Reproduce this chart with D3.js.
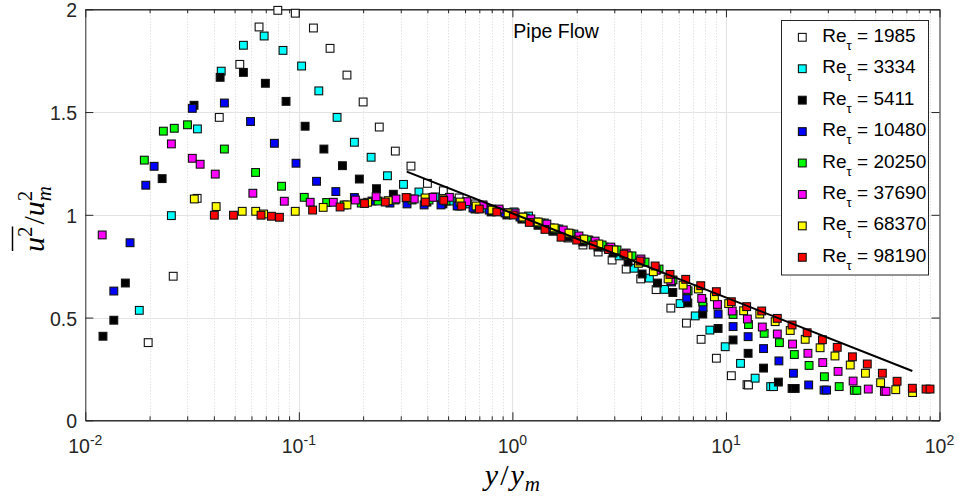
<!DOCTYPE html>
<html><head><meta charset="utf-8">
<script src="https://cdn.jsdelivr.net/npm/d3@7"></script>
<style>body{margin:0;background:#fff}</style>
</head><body>
<svg id="c" width="959" height="497"></svg>
<script>
const categories = ["1985","3334","5411","10480","20250","37690","68370","98190"];
const seriesColors = ["#ffffff","#00ffff","#000000","#0000ff","#00ff00","#ff00ff","#ffff00","#ff0000"];

const x1985 = [0.0197,0.0258,0.0334,0.0424,0.0529,0.0651,0.0797,0.0962,0.117,0.140,0.168,0.200,0.238,0.283,0.335,0.400,0.475,0.563,0.668,0.795,0.942,1.11,1.32,1.55,1.82,2.14,2.52,2.93,3.41,3.99,4.71,5.52,6.53,7.65,9.02,10.6,12.55,12.75];
const y1985 = [0.378,0.701,1.080,1.474,1.732,1.914,1.995,1.981,1.909,1.810,1.680,1.549,1.427,1.310,1.237,1.153,1.117,1.082,1.053,1.028,1.009,0.980,0.950,0.921,0.887,0.853,0.819,0.780,0.736,0.688,0.636,0.546,0.473,0.394,0.302,0.217,0.173,0.172];

const x3334 = [0.0179,0.0253,0.0335,0.0433,0.0550,0.0688,0.0843,0.103,0.124,0.151,0.182,0.218,0.260,0.309,0.365,0.434,0.516,0.613,0.729,0.866,1.017,1.19,1.41,1.65,1.94,2.28,2.69,3.16,3.72,4.38,5.16,6.10,7.18,8.41,9.92,11.7,13.7,16.2,16.7];
const y3334 = [0.535,0.996,1.418,1.699,1.825,1.870,1.800,1.724,1.603,1.474,1.353,1.280,1.190,1.148,1.111,1.087,1.067,1.053,1.033,1.019,1.014,0.994,0.960,0.931,0.906,0.877,0.843,0.800,0.740,0.692,0.637,0.568,0.508,0.439,0.358,0.277,0.205,0.164,0.164];

const x5411 = [0.0121,0.0136,0.0154,0.0229,0.0323,0.0428,0.0550,0.0697,0.0871,0.107,0.131,0.160,0.192,0.231,0.277,0.332,0.398,0.473,0.563,0.668,0.795,0.942,1.11,1.32,1.55,1.82,2.14,2.52,2.96,3.48,4.05,4.78,5.64,6.63,7.79,9.19,10.8,12.7,15.0,17.6,20.4,21.1];
const y5411 = [0.409,0.487,0.668,1.176,1.533,1.669,1.693,1.640,1.552,1.431,1.320,1.239,1.174,1.127,1.100,1.077,1.062,1.053,1.043,1.028,1.014,0.999,0.980,0.950,0.921,0.892,0.868,0.843,0.814,0.770,0.712,0.668,0.622,0.571,0.517,0.447,0.391,0.326,0.254,0.186,0.155,0.155];

const x10480 = [0.0136,0.0162,0.0192,0.0210,0.0317,0.0448,0.0594,0.0768,0.0970,0.121,0.149,0.182,0.220,0.267,0.321,0.386,0.463,0.551,0.654,0.778,0.924,1.085,1.29,1.51,1.78,2.10,2.46,2.89,3.41,4.00,4.71,5.56,6.55,7.81,9.19,10.8,12.7,15.0,17.7,20.7,24.4,28.8,29.6];
const y10480 = [0.629,0.864,1.144,1.236,1.518,1.544,1.454,1.348,1.251,1.163,1.113,1.084,1.067,1.057,1.053,1.048,1.048,1.043,1.033,1.023,1.009,0.989,0.965,0.936,0.911,0.882,0.858,0.834,0.804,0.770,0.731,0.673,0.595,0.549,0.517,0.456,0.407,0.349,0.289,0.229,0.172,0.147,0.147];

const x20250 = [0.0189,0.0232,0.0261,0.0301,0.0448,0.0627,0.0830,0.106,0.135,0.163,0.196,0.235,0.282,0.339,0.407,0.489,0.581,0.691,0.821,0.975,1.15,1.36,1.60,1.88,2.24,2.63,3.09,3.63,4.18,4.86,5.65,6.65,7.79,9.14,10.8,12.75,15.1,17.8,20.9,24.5,28.9,33.9,39.9,41.0];
const y20250 = [1.266,1.407,1.421,1.438,1.320,1.206,1.139,1.085,1.060,1.048,1.057,1.067,1.072,1.072,1.072,1.067,1.053,1.038,1.019,1.004,0.984,0.960,0.931,0.907,0.877,0.853,0.829,0.800,0.770,0.736,0.683,0.630,0.576,0.561,0.515,0.466,0.423,0.378,0.320,0.267,0.212,0.164,0.146,0.146];

const x37690 = [0.0120,0.0253,0.0317,0.0345,0.0406,0.0609,0.0855,0.113,0.145,0.184,0.230,0.285,0.347,0.424,0.507,0.611,0.729,0.866,1.03,1.22,1.45,1.73,2.05,2.44,2.89,3.41,4.00,4.71,5.52,6.55,7.70,9.12,10.7,12.6,14.8,17.4,20.5,24.2,28.4,33.5,39.4,46.4,55.2,56.2];
const y37690 = [0.902,1.345,1.275,1.246,1.198,1.105,1.066,1.061,1.061,1.072,1.088,1.077,1.077,1.085,1.085,1.064,1.048,1.028,1.009,0.980,0.955,0.926,0.897,0.872,0.843,0.814,0.785,0.731,0.679,0.637,0.593,0.564,0.532,0.493,0.454,0.420,0.371,0.326,0.281,0.238,0.191,0.152,0.141,0.141];

const x68370 = [0.0324,0.0410,0.0543,0.0628,0.0684,0.0962,0.130,0.168,0.210,0.262,0.321,0.390,0.473,0.569,0.676,0.803,0.954,1.12,1.32,1.57,1.84,2.16,2.54,2.99,3.48,3.89,4.57,5.36,6.30,7.43,8.83,10.3,12.1,14.4,17.0,20.0,23.5,27.6,32.4,38.2,45.0,53.0,62.4,74.8];
const y68370 = [1.077,1.040,1.017,1.017,1.004,1.017,1.036,1.048,1.061,1.069,1.082,1.082,1.077,1.062,1.043,1.023,1.009,0.989,0.965,0.936,0.911,0.882,0.858,0.829,0.800,0.764,0.723,0.688,0.658,0.639,0.601,0.568,0.533,0.517,0.480,0.437,0.394,0.353,0.313,0.269,0.229,0.183,0.149,0.135];

const x98190 = [0.0402,0.0494,0.0665,0.0744,0.0811,0.116,0.156,0.203,0.254,0.318,0.391,0.477,0.578,0.700,0.845,1.01,1.20,1.42,1.69,2.00,2.39,2.82,3.33,3.96,4.66,5.47,6.48,7.62,9.02,10.6,12.5,14.7,17.4,20.4,24.0,28.3,33.2,39.1,45.9,54.0,63.3,74.6,86.5,90.3];
const y98190 = [0.998,0.998,0.998,0.993,0.988,1.023,1.038,1.055,1.062,1.084,1.062,1.070,1.043,1.028,1.014,0.999,0.963,0.929,0.891,0.877,0.853,0.831,0.809,0.775,0.751,0.710,0.686,0.655,0.626,0.577,0.553,0.532,0.496,0.464,0.426,0.392,0.355,0.309,0.274,0.229,0.190,0.156,0.152,0.152];

const fitX = [0.32, 74.6];
const fitY = [1.21, 0.24];

const xTicks = [0.01, 0.1, 1, 10, 100];
const xTickExp = ["-2", "-1", "0", "1", "2"];
const yTicks = [0, 0.5, 1, 1.5, 2];
const yTickLabels = ["0", "0.5", "1", "1.5", "2"];
const annotation = "Pipe Flow";

const seriesX = [x1985, x3334, x5411, x10480, x20250, x37690, x68370, x98190];
const seriesY = [y1985, y3334, y5411, y10480, y20250, y37690, y68370, y98190];
const series = categories.map((c, i) => ({
  name: c, color: seriesColors[i],
  pts: seriesX[i].map((v, j) => ({x: v, y: seriesY[i][j]})).filter(p => p.y !== undefined)
}));

const L = 85.3, R = 939.5, T = 9.3, B = 420.3;
const svg = d3.select("#c");
const x = d3.scaleLog().domain([0.01, 100]).range([L, R]);
const y = d3.scaleLinear().domain([0, 2]).range([B, T]);
const axisCol = "#262626";
const font = "Arial, 'Liberation Sans', Helvetica, sans-serif";

const minor = [];
for (let d = 0.01; d < 100; d *= 10) for (let k = 2; k <= 9; k++) minor.push(+(d * k).toPrecision(3));

// grid
const grid = svg.append("g");
grid.selectAll(".mg").data(minor).enter().append("line")
  .attr("x1", d => Math.round(x(d)) + 0.5).attr("x2", d => Math.round(x(d)) + 0.5)
  .attr("y1", T).attr("y2", B)
  .attr("stroke", "#d6d6d6").attr("stroke-width", 1).attr("stroke-dasharray", "1,2");
grid.selectAll(".Mg").data(xTicks.slice(1, -1)).enter().append("line")
  .attr("x1", d => Math.round(x(d)) + 0.5).attr("x2", d => Math.round(x(d)) + 0.5)
  .attr("y1", T).attr("y2", B).attr("stroke", "#e3e3e3").attr("stroke-width", 1.2);
grid.selectAll(".yg").data(yTicks.slice(1, -1)).enter().append("line")
  .attr("x1", L).attr("x2", R)
  .attr("y1", d => Math.round(y(d)) + 0.5).attr("y2", d => Math.round(y(d)) + 0.5)
  .attr("stroke", "#e3e3e3").attr("stroke-width", 1.2);

// axes
function styleAxis(g) {
  g.selectAll("path,line").attr("stroke", axisCol);
  g.selectAll("text").remove();
}
svg.append("g").attr("transform", `translate(0,${B})`)
  .call(d3.axisBottom(x).tickValues(xTicks).tickSizeInner(-8).tickSizeOuter(0).tickFormat("")).call(styleAxis);
svg.append("g").attr("transform", `translate(0,${B})`)
  .call(d3.axisBottom(x).tickValues(minor).tickSizeInner(-4).tickSizeOuter(0).tickFormat("")).call(styleAxis);
svg.append("g").attr("transform", `translate(0,${T})`)
  .call(d3.axisTop(x).tickValues(xTicks).tickSizeInner(-8).tickSizeOuter(0).tickFormat("")).call(styleAxis);
svg.append("g").attr("transform", `translate(0,${T})`)
  .call(d3.axisTop(x).tickValues(minor).tickSizeInner(-4).tickSizeOuter(0).tickFormat("")).call(styleAxis);
svg.append("g").attr("transform", `translate(${L},0)`)
  .call(d3.axisLeft(y).tickValues(yTicks).tickSizeInner(-8).tickSizeOuter(0).tickFormat("")).call(styleAxis);
svg.append("g").attr("transform", `translate(${R},0)`)
  .call(d3.axisRight(y).tickValues(yTicks).tickSizeInner(-8).tickSizeOuter(0).tickFormat("")).call(styleAxis);

// tick labels
const xl = svg.append("g").attr("font-family", font).attr("fill", axisCol);
xTicks.forEach((v, i) => {
  const t = xl.append("text").attr("x", x(v)).attr("y", 453).attr("text-anchor", "middle").attr("font-size", 19.5);
  t.append("tspan").text("10");
  t.append("tspan").attr("dy", -8.5).attr("font-size", 14).text(xTickExp[i]);
});
const yl = svg.append("g").attr("font-family", font).attr("fill", axisCol).attr("font-size", 19.5);
yTicks.forEach((v, i) => {
  yl.append("text").attr("x", 77).attr("y", y(v) + 8).attr("text-anchor", "end").text(yTickLabels[i]);
});

// markers
const S = 7.8;
series.forEach(s => {
  svg.append("g").selectAll("rect").data(s.pts).enter().append("rect")
    .attr("x", d => x(d.x) - S / 2).attr("y", d => y(d.y) - S / 2)
    .attr("width", S).attr("height", S)
    .attr("fill", s.color).attr("stroke", "#111").attr("stroke-width", 1.1);
});

// fit line
svg.append("path")
  .datum(fitX.map((v, i) => ({x: v, y: fitY[i]})))
  .attr("d", d3.line().x(d => x(d.x)).y(d => y(d.y)))
  .attr("stroke", "#000").attr("stroke-width", 2).attr("fill", "none");

// annotation
svg.append("text").attr("x", 513.3).attr("y", 37.5).attr("font-family", font).attr("font-size", 19.5)
  .attr("fill", "#000").text(annotation);

// legend
const lg = svg.append("g");
lg.append("rect").attr("x", 781.5).attr("y", 20.5).attr("width", 147).attr("height", 254.5)
  .attr("fill", "#fff").attr("stroke", axisCol).attr("stroke-width", 1);
series.forEach((s, i) => {
  const cy = 37.3 + i * 31.43;
  lg.append("rect").attr("x", 802.3 - S / 2).attr("y", cy - S / 2).attr("width", S).attr("height", S)
    .attr("fill", s.color).attr("stroke", "#111").attr("stroke-width", 1.1);
  const t = lg.append("text").attr("x", 822.3).attr("y", cy + 4.5).attr("font-family", font)
    .attr("font-size", 19).attr("fill", "#000");
  t.append("tspan").text("Re");
  t.append("tspan").attr("dy", 8).attr("font-size", 13).text("τ");
  t.append("tspan").attr("dy", -8).text(" = " + s.name);
});

// axis labels
const mathFont = "'Liberation Serif', 'DejaVu Serif', serif";
const xlab = svg.append("text").attr("x", 512.4).attr("y", 485).attr("text-anchor", "middle")
  .attr("font-family", mathFont).attr("font-size", 30).attr("fill", "#000");
xlab.append("tspan").attr("font-style", "italic").text("y");
xlab.append("tspan").attr("dx", 2).text("/");
xlab.append("tspan").attr("dx", 2).attr("font-style", "italic").text("y");
xlab.append("tspan").attr("font-style", "italic").attr("font-size", 21).attr("dx", 1).attr("dy", 6).text("m");

const yg = svg.append("g").attr("transform", "translate(44,219) rotate(-90)");
const ylab = yg.append("text").attr("x", 0).attr("y", 0).attr("text-anchor", "middle")
  .attr("font-family", mathFont).attr("font-size", 30).attr("fill", "#000");
ylab.append("tspan").attr("font-style", "italic").text("u");
ylab.append("tspan").attr("font-size", 21).attr("dy", -12).text("2");
ylab.append("tspan").attr("dy", 12).attr("dx", 2).text("/");
ylab.append("tspan").attr("font-style", "italic").text("u");
ylab.append("tspan").attr("font-size", 21).attr("dy", -12).text("2");
ylab.append("tspan").attr("font-size", 21).attr("font-style", "italic").attr("dx", -10.5).attr("dy", 19).text("m");
const e0 = ylab.node().getExtentOfChar(0), e1 = ylab.node().getExtentOfChar(1);
const oy = Math.min(e0.y, e1.y) - 0.5;
yg.append("line").attr("x1", e0.x + 1).attr("x2", e1.x + e1.width).attr("y1", oy).attr("y2", oy)
  .attr("stroke", "#000").attr("stroke-width", 1.5);
</script>
</body></html>
